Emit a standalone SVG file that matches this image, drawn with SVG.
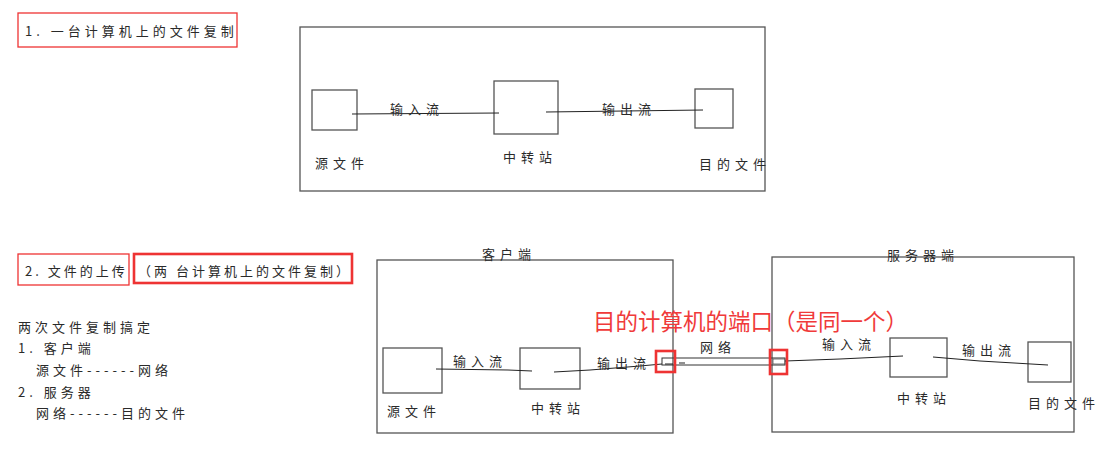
<svg xmlns="http://www.w3.org/2000/svg" width="1111" height="450" viewBox="0 0 1111 450">
<style>
.t{font-family:"Noto Sans CJK SC","Noto Sans",sans-serif;font-size:13px;fill:#2a2a2a;letter-spacing:5px}
.h{font-family:"Noto Sans CJK SC","Noto Sans",sans-serif;font-size:13px;fill:#2a2a2a;letter-spacing:4px}
.box{fill:none;stroke:#555;stroke-width:1.3}
.frame{fill:none;stroke:#555;stroke-width:1.3}
.ln{fill:none;stroke:#222;stroke-width:1}
.red{fill:none;stroke:#ee3333;stroke-width:1.3}
.redb{fill:none;stroke:#ee3333;stroke-width:2.6}
.note{font-family:"Noto Sans CJK SC","Noto Sans",sans-serif;font-size:22.5px;fill:#f03a3a}
</style>
<rect width="1111" height="450" fill="#fff"/>

<!-- Part 1 -->
<g id="title1">
<rect class="red" x="18" y="13" width="219" height="34"/>
<text class="h" x="25" y="36">1. 一台计算机上的文件复制</text>
</g>
<g id="computer1">
<rect class="frame" x="300" y="27" width="465" height="164"/>
</g>
<g id="src1">
<rect class="box" x="312" y="90" width="45" height="40"/>
<text class="t" x="315" y="168">源文件</text>
</g>
<g id="relay1">
<rect class="box" x="494" y="81" width="64" height="53"/>
<text class="t" x="503" y="162">中转站</text>
</g>
<g id="dst1">
<rect class="box" x="695" y="89" width="38" height="39"/>
<text class="t" x="699" y="169">目的文件</text>
</g>
<g id="connectors1">
<line class="ln" x1="352" y1="114" x2="499" y2="113"/>
<line class="ln" x1="546" y1="112" x2="703" y2="110"/>
<text class="t" x="390" y="114">输入流</text>
<text class="t" x="602" y="114">输出流</text>
</g>

<!-- Part 2 -->
<g id="title2">
<rect class="red" x="18" y="254" width="111" height="31"/>
<text class="h" x="25" y="276" style="letter-spacing:3px">2. 文件的上传</text>
<rect class="redb" x="134" y="254" width="218" height="29"/>
<text class="h" x="138" y="276" style="letter-spacing:3px">（两 台计算机上的文件复制）</text>
</g>
<g id="notes">
<text class="h" x="18" y="332">两次文件复制搞定</text>
<text class="h" x="18" y="353">1. 客户端</text>
<text class="h" x="36" y="375">源文件------网络</text>
<text class="h" x="18" y="397">2. 服务器</text>
<text class="h" x="36" y="418">网络------目的文件</text>
</g>

<g id="client">
<rect class="frame" x="377" y="260" width="296" height="173"/>
<text class="t" x="482" y="259">客户端</text>
</g>
<g id="src2">
<rect class="box" x="383" y="348" width="59" height="45"/>
<text class="t" x="387" y="416">源文件</text>
</g>
<g id="relay2">
<rect class="box" x="520" y="348" width="60" height="41"/>
<text class="t" x="531" y="413">中转站</text>
</g>

<g id="server">
<rect class="frame" x="772" y="257" width="302" height="175"/>
<text class="t" x="887" y="260">服务器端</text>
</g>
<g id="relay3">
<rect class="box" x="890" y="338" width="57" height="39"/>
<text class="t" x="897" y="403">中转站</text>
</g>
<g id="dst3">
<rect class="box" x="1028" y="342" width="43" height="40"/>
<text class="t" x="1028" y="408">目的文件</text>
</g>

<g id="network">
<rect fill="none" stroke="#333" stroke-width="1" x="662" y="358" width="123" height="7"/>
<line class="ln" x1="665" y1="364" x2="673" y2="364"/>
<line class="ln" x1="679" y1="363" x2="685" y2="363"/>
<rect fill="none" stroke="#555" stroke-width="0.8" x="773" y="359" width="12" height="5"/>
<text class="t" x="700" y="352">网络</text>
</g>

<g id="connectors2">
<polyline class="ln" points="436,369 508,370 532,371"/>
<polyline class="ln" points="554,372 590,370 640,366 662,364"/>
<polyline class="ln" points="785,361 840,359 903,356"/>
<polyline class="ln" points="933,357 980,361 1048,365"/>
<text class="t" x="453" y="366">输入流</text>
<text class="t" x="597" y="368">输出流</text>
<text class="t" x="822" y="349">输入流</text>
<text class="t" x="962" y="355">输出流</text>
</g>

<g id="ports">
<rect class="redb" x="656" y="351" width="19" height="21"/>
<rect class="redb" x="770" y="350" width="17" height="24"/>
<text class="note" x="593" y="330">目的计算机的端口（是同一个）</text>
</g>
</svg>
